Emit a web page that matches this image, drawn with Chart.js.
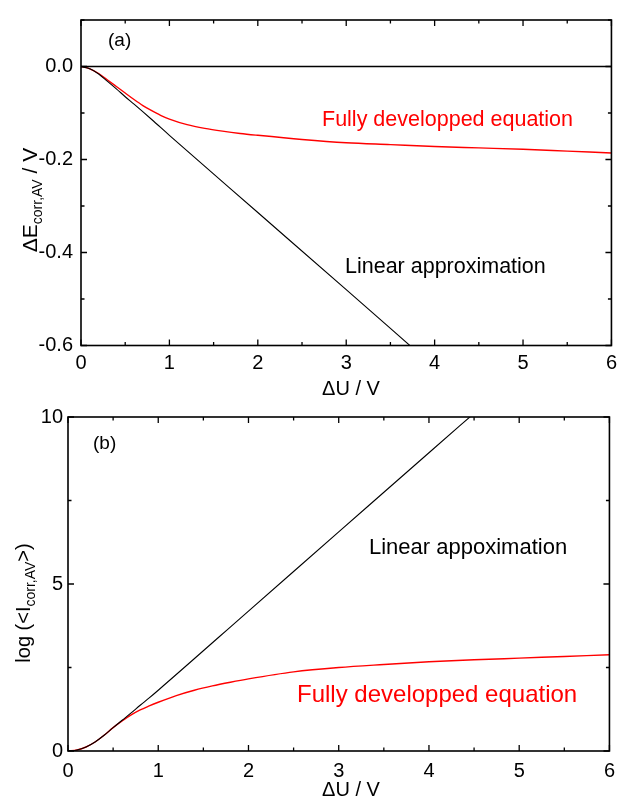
<!DOCTYPE html>
<html>
<head>
<meta charset="utf-8">
<script src="https://cdn.jsdelivr.net/npm/chart.js@4.4.1/dist/chart.umd.min.js"></script>
<style>
  html, body { margin:0; padding:0; background:#fff; }
  #wrap { position:relative; width:623px; height:804px; }
  canvas { position:absolute; left:0; }
</style>
</head>
<body>
<div id="wrap">
  <canvas id="chartA" width="623" height="400" style="top:0px"></canvas>
  <canvas id="chartB" width="623" height="404" style="top:400px"></canvas>
</div>
<script>
// --- data ---
// panel (a): dE_corr,AV vs dU
const uLinA  = [0, 0.1, 0.2, 0.3, 0.4, 0.5, 0.6, 0.8, 1.0, 2.0, 3.0, 3.75];
const eLinA  = [0, -0.005, -0.016, -0.032, -0.048, -0.065, -0.081, -0.114, -0.148, -0.314, -0.480, -0.605];
const uFullA = [0, 0.1, 0.2, 0.3, 0.4, 0.5, 0.6, 0.7, 0.8, 0.9, 1.0, 1.2, 1.4, 1.6, 1.8, 2.0, 2.5, 3.0, 3.5, 4.0, 4.5, 5.0, 5.5, 6.0];
const eFullA = [0, -0.005, -0.015, -0.029, -0.043, -0.057, -0.071, -0.084, -0.095, -0.105, -0.113, -0.125, -0.133, -0.139, -0.144, -0.148, -0.157, -0.164, -0.168, -0.172, -0.175, -0.178, -0.182, -0.186];
const uZero  = [0, 6];
const eZero  = [0, 0];

// panel (b): log(<I_corr,AV>) vs dU
const uLinB  = [0, 0.1, 0.2, 0.3, 0.4, 0.5, 0.6, 0.7, 0.8, 0.9, 1.0, 2.0, 3.0, 4.0, 4.5];
const iLinB  = [0, 0.03, 0.12, 0.27, 0.47, 0.70, 0.92, 1.14, 1.37, 1.59, 1.82, 4.19, 6.56, 8.93, 10.11];
const uFullB = [0, 0.1, 0.2, 0.3, 0.4, 0.5, 0.6, 0.7, 0.8, 0.9, 1.0, 1.2, 1.4, 1.6, 1.8, 2.0, 2.5, 3.0, 3.5, 4.0, 4.5, 5.0, 5.5, 6.0];
const iFullB = [0, 0.03, 0.12, 0.27, 0.47, 0.70, 0.90, 1.08, 1.23, 1.35, 1.46, 1.66, 1.82, 1.95, 2.06, 2.16, 2.37, 2.50, 2.59, 2.67, 2.73, 2.78, 2.83, 2.88];

// ticks
const xMajor  = [0, 1, 2, 3, 4, 5, 6];
const xMinor  = [0.5, 1.5, 2.5, 3.5, 4.5, 5.5];
const yMajorA = [-0.6, -0.4, -0.2, 0.0];
const yMinorA = [-0.5, -0.3, -0.1, 0.1];
const yMajorB = [0, 5, 10];
const yMinorB = [2.5, 7.5];

Chart.defaults.font.family = '"Liberation Sans", Arial, sans-serif';
Chart.defaults.font.size = 20;
Chart.defaults.color = '#000';

const pts = (xs, ys) => xs.map((x, i) => ({ x: x, y: ys[i] }));

// frame with inward ticks on all four sides + free text
const framePlugin = {
  id: 'frame',
  afterDraw(chart, args, o) {
    const { ctx, chartArea: a, scales: { x, y } } = chart;
    ctx.save();
    ctx.strokeStyle = '#000';
    ctx.lineWidth = 1.3;
    const mark = (vals, len, horiz) => {
      vals.forEach(v => {
        ctx.beginPath();
        if (horiz) {
          const px = x.getPixelForValue(v);
          ctx.moveTo(px, a.bottom); ctx.lineTo(px, a.bottom - len);
          ctx.moveTo(px, a.top); ctx.lineTo(px, a.top + len);
        } else {
          const py = y.getPixelForValue(v);
          ctx.moveTo(a.left, py); ctx.lineTo(a.left + len, py);
          ctx.moveTo(a.right, py); ctx.lineTo(a.right - len, py);
        }
        ctx.stroke();
      });
    };
    mark(o.xMajor, 6, true);
    mark(o.xMinor, 3.5, true);
    mark(o.yMajor, 6, false);
    mark(o.yMinor, 3.5, false);
    ctx.lineWidth = 1.6;
    ctx.strokeRect(a.left, a.top, a.right - a.left, a.bottom - a.top);

    // labels inside the plot
    ctx.textBaseline = 'alphabetic';
    ctx.textAlign = 'left';
    o.texts.forEach(t => {
      ctx.font = t.size + 'px "Liberation Sans", Arial, sans-serif';
      ctx.fillStyle = t.color || '#000';
      ctx.fillText(t.text, t.x, t.y);
    });

    // x title
    ctx.fillStyle = '#000';
    ctx.textAlign = 'center';
    ctx.font = '20px "Liberation Sans", Arial, sans-serif';
    ctx.fillText(o.xTitle.text, o.xTitle.x, o.xTitle.y);

    // y title, rotated, with subscript
    const yt = o.yTitle;
    ctx.textAlign = 'left';
    let total = 0;
    yt.parts.forEach(p => {
      ctx.font = p.size + 'px "Liberation Sans", Arial, sans-serif';
      p.w = ctx.measureText(p.text).width;
      total += p.w;
    });
    ctx.translate(yt.x, yt.y);
    ctx.rotate(-Math.PI / 2);
    let cx = -total / 2;
    yt.parts.forEach(p => {
      ctx.font = p.size + 'px "Liberation Sans", Arial, sans-serif';
      ctx.fillText(p.text, cx, p.dy || 0);
      cx += p.w;
    });
    ctx.restore();
  }
};

function makeChart(id, cfg) {
  return new Chart(document.getElementById(id), {
    type: 'line',
    data: { datasets: cfg.datasets },
    plugins: [framePlugin],
    options: {
      responsive: false,
      animation: false,
      layout: { padding: { top: cfg.padTop, right: 8, left: 0, bottom: 0 } },
      elements: { point: { radius: 0 } },
      plugins: {
        legend: { display: false },
        tooltip: { enabled: false },
        frame: cfg.frame
      },
      scales: {
        x: {
          type: 'linear', min: 0, max: 6,
          grid: { display: false, drawTicks: false },
          border: { display: false },
          afterBuildTicks: s => { s.ticks = xMajor.map(v => ({ value: v })); },
          ticks: { padding: cfg.xPad, maxRotation: 0, callback: v => String(v) },
          afterFit: s => { s.height = cfg.xHeight; }
        },
        y: {
          type: 'linear', min: cfg.yMin, max: cfg.yMax,
          grid: { display: false, drawTicks: false },
          border: { display: false },
          afterBuildTicks: s => { s.ticks = cfg.yMajor.map(v => ({ value: v })); },
          ticks: { padding: cfg.yPad, callback: cfg.yFmt },
          afterFit: s => { s.width = cfg.yWidth; }
        }
      }
    }
  });
}

makeChart('chartA', {
  padTop: 15.5, xHeight: 54.5, yWidth: 81, xPad: 6, yPad: 8,
  yMin: -0.6, yMax: 0.1, yMajor: yMajorA, yFmt: v => v.toFixed(1),
  datasets: [
    { data: pts(uZero, eZero), borderColor: '#000', borderWidth: 1.7 },
    { data: pts(uLinA, eLinA), borderColor: '#000', borderWidth: 1.1, cubicInterpolationMode: 'monotone' },
    { data: pts(uFullA, eFullA), borderColor: '#ff0000', borderWidth: 1.4, cubicInterpolationMode: 'monotone' }
  ],
  frame: {
    xMajor: xMajor, xMinor: xMinor, yMajor: yMajorA, yMinor: yMinorA,
    texts: [
      { text: '(a)', x: 108, y: 46, size: 19 },
      { text: 'Fully developped equation', x: 322, y: 126, size: 21.5, color: '#ff0000' },
      { text: 'Linear approximation', x: 345, y: 273, size: 21.5 }
    ],
    xTitle: { text: '\u0394U / V', x: 351, y: 395 },
    yTitle: { x: 37, y: 200, parts: [
      { text: '\u0394E', size: 21 },
      { text: 'corr,AV', size: 14, dy: 5 },
      { text: ' / V', size: 21 }
    ] }
  }
});

makeChart('chartB', {
  padTop: 13.5, xHeight: 53, yWidth: 68, xPad: 8, yPad: 5,
  yMin: 0, yMax: 10, yMajor: yMajorB, yFmt: v => String(v),
  datasets: [
    { data: pts(uLinB, iLinB), borderColor: '#000', borderWidth: 1.1, cubicInterpolationMode: 'monotone' },
    { data: pts(uFullB, iFullB), borderColor: '#ff0000', borderWidth: 1.4, cubicInterpolationMode: 'monotone' }
  ],
  frame: {
    xMajor: xMajor, xMinor: xMinor, yMajor: yMajorB, yMinor: yMinorB,
    texts: [
      { text: '(b)', x: 93, y: 49, size: 19 },
      { text: 'Linear appoximation', x: 369, y: 154, size: 22 },
      { text: 'Fully developped equation', x: 297, y: 302, size: 24, color: '#ff0000' }
    ],
    xTitle: { text: '\u0394U / V', x: 351, y: 396 },
    yTitle: { x: 30, y: 203, parts: [
      { text: 'log (<I', size: 20 },
      { text: 'corr,AV', size: 14, dy: 5 },
      { text: '>)', size: 20 }
    ] }
  }
});
</script>
</body>
</html>
